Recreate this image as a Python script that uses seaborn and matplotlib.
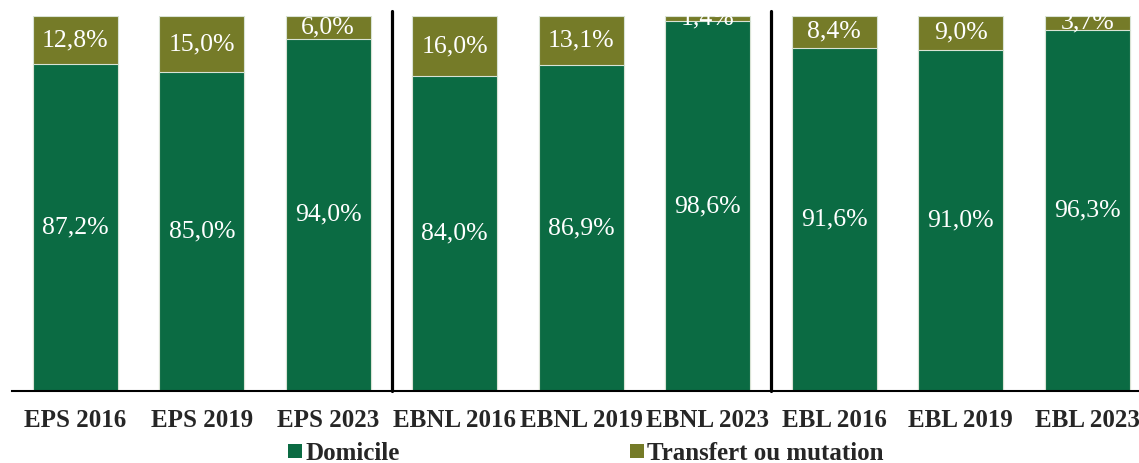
import matplotlib
matplotlib.use("Agg")
import matplotlib.pyplot as plt
from matplotlib.patches import Patch
from matplotlib.ticker import FixedLocator
import numpy as np
import pandas as pd
import seaborn as sns

categories = ["EPS 2016", "EPS 2019", "EPS 2023",
              "EBNL 2016", "EBNL 2019", "EBNL 2023",
              "EBL 2016", "EBL 2019", "EBL 2023"]
domicile = [87.2, 85.0, 94.0, 84.0, 86.9, 98.6, 91.6, 91.0, 96.3]
transfert = [12.8, 15.0, 6.0, 16.0, 13.1, 1.4, 8.4, 9.0, 3.7]
series_names = ["Domicile", "Transfert ou mutation"]
group_breaks = [2.5, 5.5]

GREEN = "#0B6B43"
OLIVE = "#757B28"
EDGE = "#d9e3d5"

sns.set_style("white")
plt.rcParams["font.family"] = ["Liberation Serif", "DejaVu Serif"]

df = pd.DataFrame({"cat": categories, "dom": domicile, "tr": transfert})
df["total"] = df["dom"] + df["tr"]

fig = plt.figure(figsize=(11.39, 4.63), dpi=100)
W, H = 1139, 463
left_px, right_px, top_px, bot_px = 12, 12 + 9 * 126.5, 16, 391
ax = fig.add_axes([left_px / W, 1 - bot_px / H, (right_px - left_px) / W, (bot_px - top_px) / H])

bw = 0.672
sns.barplot(data=df, x="cat", y="total", color=OLIVE, saturation=1, width=bw,
            edgecolor=EDGE, linewidth=0.8, ax=ax)
sns.barplot(data=df, x="cat", y="dom", color=GREEN, saturation=1, width=bw,
            edgecolor=EDGE, linewidth=0.8, ax=ax)

ax.set_xlim(-0.5, len(categories) - 0.5)
ax.set_ylim(0, 100)
ax.set_xlabel("")
ax.set_ylabel("")
ax.set_yticks([])

for s in ["left", "right", "top"]:
    ax.spines[s].set_visible(False)
ax.spines["bottom"].set_color("black")
ax.spines["bottom"].set_linewidth(1.5)

ax.set_xticks(range(len(categories)))
ax.set_xticklabels(categories, fontsize=18, fontweight="bold")
ax.tick_params(axis="x", which="major", length=0, pad=13)
ax.xaxis.set_minor_locator(FixedLocator(np.arange(-0.5, len(categories), 1.0)))
ax.tick_params(axis="x", which="minor", length=6, width=1.5, color="black", direction="out")

for xb in group_breaks:
    ax.axvline(xb, ymin=0, ymax=1.014, color="black", linewidth=2.3, clip_on=False, zorder=5)

def fmt(v):
    return f"{v:.1f}%".replace(".", ",")

for i, (d, t) in enumerate(zip(domicile, transfert)):
    ax.text(i, d / 2, fmt(d), ha="center", va="center", color="white", fontsize=18.5)
    ax.text(i, d + t / 2, fmt(t), ha="center", va="center", color="white", fontsize=18.5)

handles = [Patch(facecolor=GREEN, edgecolor="none"), Patch(facecolor=OLIVE, edgecolor="none")]
fig.legend(handles, series_names, loc="center", bbox_to_anchor=(0.5145, 0.02), ncol=2,
           frameon=False, handlelength=0.55, handleheight=0.5, handletextpad=0.15,
           columnspacing=9.2, prop={"size": 18, "weight": "bold"})

fig.savefig("out.png", dpi=100)
